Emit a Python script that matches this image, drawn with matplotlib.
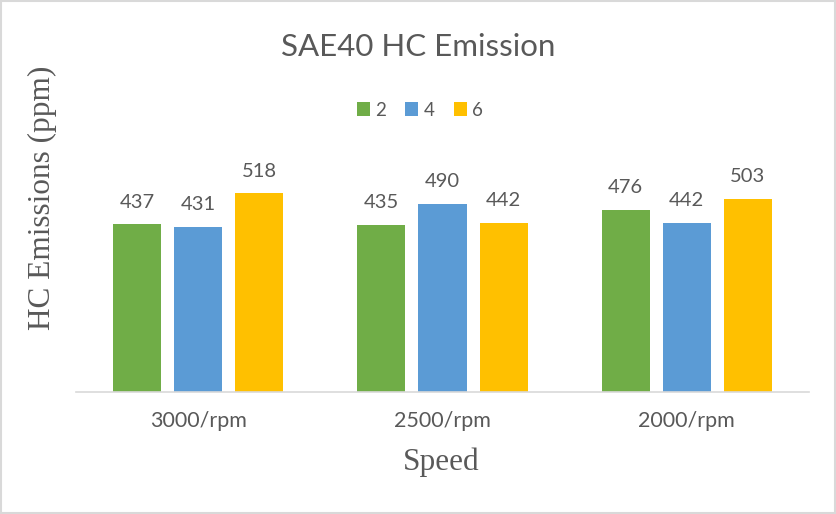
import numpy as np
import matplotlib.pyplot as plt
from matplotlib.patches import Rectangle

# ---------- data ----------
speeds = ["3000/rpm", "2500/rpm", "2000/rpm"]
series_names = ["2", "4", "6"]
hc_2 = [437, 435, 476]
hc_4 = [431, 490, 442]
hc_6 = [518, 442, 503]

COLORS = ["#70AD47", "#5B9BD5", "#FFC000"]
TXT = "#595959"

fig = plt.figure(figsize=(8.37, 5.14), dpi=100)
ax = fig.add_axes([76 / 837, 1 - 392 / 514, (809 - 76) / 837, (392 - 162) / 514])

x = np.arange(len(speeds))
step = 0.25
width = 0.197
for k, (name, vals) in enumerate(zip(series_names, [hc_2, hc_4, hc_6])):
    pos = x + (k - 1) * step
    bars = ax.bar(pos, vals, width, color=COLORS[k], label=name)
    for b, v in zip(bars, vals):
        ax.annotate(f"{v}", (b.get_x() + b.get_width() / 2, v),
                    xytext=(0, 10), textcoords="offset points",
                    ha="center", va="bottom", fontsize=14.5, color=TXT,
                    family="Lato")

ax.set_xlim(-0.5, len(speeds) - 0.5)
ax.set_ylim(0, 600)
ax.set_yticks([])
ax.set_xticks(x)
ax.set_xticklabels(speeds, fontsize=15.5, color=TXT, family="Lato")
ax.tick_params(axis="x", length=0, pad=14)
for s in ["top", "right", "left"]:
    ax.spines[s].set_visible(False)
ax.spines["bottom"].set_color("#D9D9D9")
ax.spines["bottom"].set_linewidth(1.2)

fig.text(418 / 837, 1 - 47 / 514, "SAE40 HC Emission", ha="center", va="center",
         fontsize=22.5, color=TXT, family="Lato")
fig.text(441 / 837, 1 - 462 / 514, "Speed", ha="center", va="center",
         fontsize=22.5, color=TXT, family="Liberation Serif")
fig.text(42 / 837, 1 - 198 / 514, "HC Emissions (ppm)", ha="center", va="center",
         rotation=90, fontsize=22.5, color=TXT, family="Liberation Serif")

leg = fig.legend(loc="center", bbox_to_anchor=(420 / 837, 1 - 110 / 514), ncol=3,
                 frameon=False, handlelength=0.7, handleheight=0.7,
                 handletextpad=0.3, columnspacing=1.0,
                 prop={"family": "Lato", "size": 13.5})
for t in leg.get_texts():
    t.set_color(TXT)

fig.patches.append(Rectangle((0.001, 0.001), 0.997, 0.997, transform=fig.transFigure,
                             fill=False, edgecolor="#D9D9D9", linewidth=1.5))

fig.savefig("out.png", dpi=100)
